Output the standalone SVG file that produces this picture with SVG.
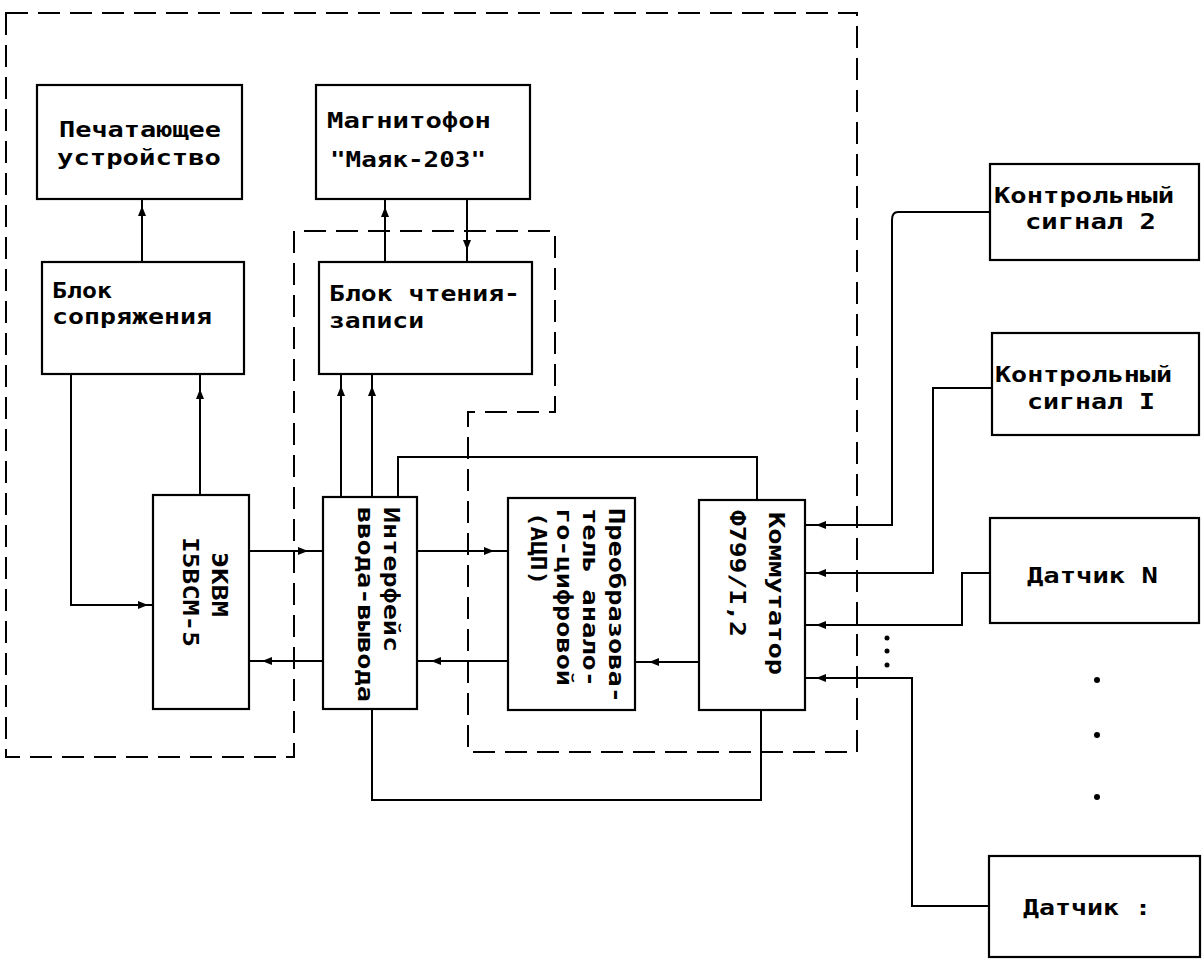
<svg xmlns="http://www.w3.org/2000/svg" xmlns:xlink="http://www.w3.org/1999/xlink" width="1203" height="959" viewBox="0 0 1203 959">
<style>
.box{fill:#fff;stroke:#000;stroke-width:2.2}
.ln{fill:none;stroke:#000;stroke-width:2}
.dash{fill:none;stroke:#000;stroke-width:2;stroke-dasharray:22 10}
.t{font-family:"DejaVu Sans Mono","Liberation Mono",monospace;font-size:22px;font-weight:bold;fill:#000}
.dot{fill:#000}
</style>
<defs>
<path id="ah" d="M0,0 L-10,-4 L-10,4 Z" fill="#000"/>
</defs>
<rect width="1203" height="959" fill="#fff"/>
<g id="boundary">
<path class="dash" d="M6,13 H857 V752 H468 V412 H555 V231 H294 V757 H6 Z"/>
</g>
<g id="connectors">
<path class="ln" d="M142,262 V199"/>
<use xlink:href="#ah" transform="translate(142,206) rotate(-90)"/>
<path class="ln" d="M385,262 V199"/>
<use xlink:href="#ah" transform="translate(385,207) rotate(-90)"/>
<path class="ln" d="M467,199 V262"/>
<use xlink:href="#ah" transform="translate(467,250) rotate(90)"/>
<path class="ln" d="M200,495 V374"/>
<use xlink:href="#ah" transform="translate(200,389) rotate(-90)"/>
<path class="ln" d="M71,374 V605 H153"/>
<use xlink:href="#ah" transform="translate(148,605)"/>
<path class="ln" d="M341,497 V374"/>
<use xlink:href="#ah" transform="translate(341,386) rotate(-90)"/>
<path class="ln" d="M372,497 V374"/>
<use xlink:href="#ah" transform="translate(372,386) rotate(-90)"/>
<path class="ln" d="M249,551 H323"/>
<use xlink:href="#ah" transform="translate(308,551)"/>
<path class="ln" d="M323,661 H249"/>
<use xlink:href="#ah" transform="translate(262,661) rotate(180)"/>
<path class="ln" d="M417,551 H508"/>
<use xlink:href="#ah" transform="translate(494,551)"/>
<path class="ln" d="M508,661 H417"/>
<use xlink:href="#ah" transform="translate(431,661) rotate(180)"/>
<path class="ln" d="M699,662 H635"/>
<use xlink:href="#ah" transform="translate(649,662) rotate(180)"/>
<path class="ln" d="M398,497 V457 H757 V500"/>
<path class="ln" d="M372,709 V800 H761 V710"/>
<path class="ln" d="M990,212 H898 Q892,212 892,220 V525 H805"/>
<use xlink:href="#ah" transform="translate(816,525) rotate(180)"/>
<path class="ln" d="M992,388 H933 V573 H805"/>
<use xlink:href="#ah" transform="translate(816,573) rotate(180)"/>
<path class="ln" d="M990,573 H962 V625 H805"/>
<use xlink:href="#ah" transform="translate(816,625) rotate(180)"/>
<path class="ln" d="M989,906 H912 V678 H805"/>
<use xlink:href="#ah" transform="translate(816,678) rotate(180)"/>
<circle class="dot" cx="887" cy="638" r="2.5"/>
<circle class="dot" cx="887" cy="651" r="2.5"/>
<circle class="dot" cx="887" cy="665" r="2.5"/>
<circle class="dot" cx="1097" cy="680" r="3"/>
<circle class="dot" cx="1097" cy="735" r="3"/>
<circle class="dot" cx="1097" cy="797" r="3"/>
</g>
<g id="printer">
<rect class="box" x="37" y="85" width="205" height="114"/>
<text class="t" x="59" y="137" textLength="162" lengthAdjust="spacingAndGlyphs">Печатающее</text>
<text class="t" x="57" y="165" textLength="164" lengthAdjust="spacingAndGlyphs">устройство</text>
</g>
<g id="tape">
<rect class="box" x="316" y="85" width="214" height="114"/>
<text class="t" x="327" y="128" textLength="164" lengthAdjust="spacingAndGlyphs">Магнитофон</text>
<text class="t" x="330" y="167" textLength="156" lengthAdjust="spacingAndGlyphs">"Маяк-203"</text>
</g>
<g id="interface-unit">
<rect class="box" x="42" y="262" width="202" height="112"/>
<text class="t" x="52" y="298" textLength="60" lengthAdjust="spacingAndGlyphs">Блок</text>
<text class="t" x="52" y="324" textLength="160" lengthAdjust="spacingAndGlyphs">сопряжения</text>
</g>
<g id="rw-unit">
<rect class="box" x="319" y="262" width="213" height="112"/>
<text class="t" x="329" y="301" textLength="191" lengthAdjust="spacingAndGlyphs">Блок чтения-</text>
<text class="t" x="329" y="328" textLength="95" lengthAdjust="spacingAndGlyphs">записи</text>
</g>
<g id="computer">
<rect class="box" x="153" y="495" width="96" height="214"/>
<text class="t" transform="translate(212,552) rotate(90)" textLength="65" lengthAdjust="spacingAndGlyphs">ЭКВМ</text>
<text class="t" transform="translate(183,537) rotate(90)" textLength="110" lengthAdjust="spacingAndGlyphs">I5ВСМ-5</text>
</g>
<g id="io">
<rect class="box" x="323" y="497" width="94" height="212"/>
<text class="t" transform="translate(384,507) rotate(90)" textLength="145" lengthAdjust="spacingAndGlyphs">Интерфейс</text>
<text class="t" transform="translate(358,507) rotate(90)" textLength="195" lengthAdjust="spacingAndGlyphs">ввода-вывода</text>
</g>
<g id="adc">
<rect class="box" x="508" y="498" width="127" height="212"/>
<text class="t" transform="translate(609,508) rotate(90)" textLength="195" lengthAdjust="spacingAndGlyphs">Преобразова-</text>
<text class="t" transform="translate(583,508) rotate(90)" textLength="179" lengthAdjust="spacingAndGlyphs">тель анало-</text>
<text class="t" transform="translate(557,508) rotate(90)" textLength="178" lengthAdjust="spacingAndGlyphs">го-цифровой</text>
<text class="t" transform="translate(531,512) rotate(90)" textLength="73" lengthAdjust="spacingAndGlyphs">(АЦП)</text>
</g>
<g id="switch">
<rect class="box" x="699" y="500" width="106" height="210"/>
<text class="t" transform="translate(769,512) rotate(90)" textLength="163" lengthAdjust="spacingAndGlyphs">Коммутатор</text>
<text class="t" transform="translate(730,510) rotate(90)" textLength="127" lengthAdjust="spacingAndGlyphs">Ф799/I,2</text>
</g>
<g id="ctrl2">
<rect class="box" x="990" y="164" width="209" height="96"/>
<text class="t" x="994" y="203" textLength="180" lengthAdjust="spacingAndGlyphs">Контрольный</text>
<text class="t" x="1025" y="229" textLength="131" lengthAdjust="spacingAndGlyphs">сигнал 2</text>
</g>
<g id="ctrl1">
<rect class="box" x="992" y="333" width="207" height="102"/>
<text class="t" x="995" y="382" textLength="177" lengthAdjust="spacingAndGlyphs">Контрольный</text>
<text class="t" x="1027" y="409" textLength="128" lengthAdjust="spacingAndGlyphs">сигнал I</text>
</g>
<g id="sensorN">
<rect class="box" x="990" y="518" width="209" height="105"/>
<text class="t" x="1027" y="583" textLength="131" lengthAdjust="spacingAndGlyphs">Датчик N</text>
</g>
<g id="sensor1">
<rect class="box" x="989" y="856" width="211" height="101"/>
<text class="t" x="1023" y="915" textLength="128" lengthAdjust="spacingAndGlyphs">Датчик :</text>
</g>
</svg>
